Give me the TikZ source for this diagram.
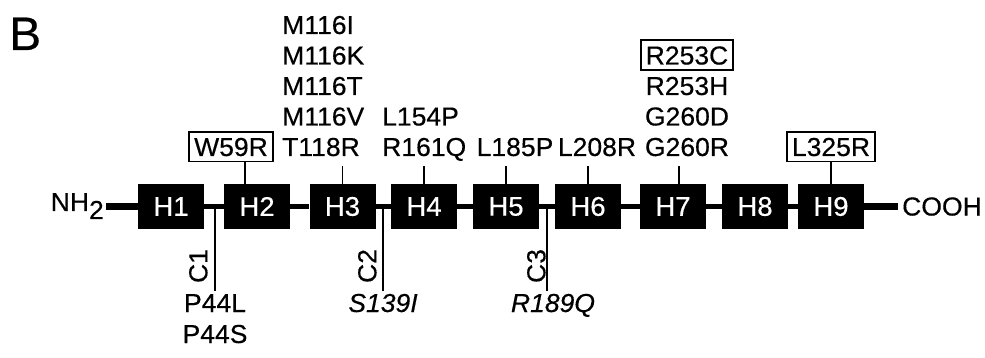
\documentclass[tikz,border=0pt]{standalone}
\usepackage{fontspec}
\setmainfont{Liberation Sans}[FakeStretch=1.02,FakeBold=0.4]
\begin{document}
\begin{tikzpicture}[x=1pt,y=-1pt,
  lab/.style={font=\fontsize{26}{30}\selectfont, inner sep=0pt, text height=18.6pt, text depth=0pt, anchor=base},
  boxlab/.style={lab, draw, line width=1.8pt, inner xsep=5pt, inner ysep=5.5pt},
  hbox/.style={fill=black, minimum width=66pt, minimum height=45pt, inner sep=0pt, text=white, font=\fontsize{27}{30}\selectfont},
  tick/.style={line width=1.8pt},
  chain/.style={line width=5.5pt},
  term/.style={line width=7.5pt}]
\useasboundingbox (0,0) rectangle (985,358);

% label B
\node[anchor=base west, inner sep=0pt, font=\fontsize{47}{50}\selectfont] (B) at (9,50) {B};

% helices
\foreach \n/\x in {1/171,2/257,3/342.5,4/424,5/506,6/588,7/673,8/755,9/831}
  \node[hbox] (H\n) at (\x,206.5) {H\n};
\foreach \a/\b in {H1/H2,H2/H3,H3/H4,H4/H5,H5/H6,H6/H7,H7/H8,H8/H9}
  \draw[chain] (\a.east) -- (\b.west);

% termini
\node[lab, anchor=base east] (N) at (104,211) {NH\raisebox{-8pt}{2}};
\draw[term] ([xshift=2pt]N.east |- H1.west) -- (H1.west);
\node[lab, anchor=base west] (COOH) at (902,215.5) {COOH};
\draw[term] (H9.east) -- ([xshift=-4pt]COOH.west |- H9.east);

% top labels
\node[boxlab] (W59R) at (231,156) {W59R};
\draw[tick] ([xshift=-12pt]H2.north) -- ([xshift=-12pt]H2.north |- W59R.south);

\node[lab, anchor=base west] (m1) at (282,34) {M116I};
\node[lab, anchor=base west] (m2) at (282,64.5) {M116K};
\node[lab, anchor=base west] (m3) at (282,95) {M116T};
\node[lab, anchor=base west] (m4) at (282,125.5) {M116V};
\node[lab, anchor=base west] (m5) at (282,156) {T118R};
\draw[tick] (H3.north) -- ([yshift=-10pt]H3.north |- m5.base);

\node[lab, anchor=base west] (L154P) at (382,125.5) {L154P};
\node[lab, anchor=base west] (R161Q) at (382,156) {R161Q};
\draw[tick] (H4.north) -- ([yshift=-10pt]H4.north |- R161Q.base);

\node[lab] (L185P) at (515,156) {L185P};
\draw[tick] (H5.north) -- ([yshift=-10pt]H5.north |- L185P.base);

\node[lab] (L208R) at (597,156) {L208R};
\draw[tick] (H6.north) -- ([yshift=-10pt]H6.north |- L208R.base);

\node[boxlab] (R253C) at (687,64.5) {R253C};
\node[lab] (R253H) at (687,95) {R253H};
\node[lab] (G260D) at (687,125.5) {G260D};
\node[lab] (G260R) at (687,156) {G260R};
\draw[tick] ([xshift=6pt]H7.north) -- ([xshift=6pt,yshift=-10pt]H7.north |- G260R.base);

\node[boxlab] (L325R) at (831,156) {L325R};
\draw[tick] (H9.north) -- (H9.north |- L325R.south);

% bottom labels
\coordinate (c1) at (215,206.5);
\coordinate (c2) at (383,206.5);
\coordinate (c3) at (547,206.5);

\node[lab] (P44L) at (215,312) {P44L};
\node[lab] (P44S) at (215,343) {P44S};
\node[lab, font=\fontsize{26}{30}\selectfont\itshape] (S139I) at (383,312) {S139I};
\node[lab, font=\fontsize{26}{30}\selectfont\itshape] (R189Q) at (553,312) {R189Q};

\draw[tick] (c1) -- ([yshift=2pt]c1 |- P44L.north);
\draw[tick] (c2) -- ([yshift=2pt]c2 |- S139I.north);
\draw[tick] (c3) -- ([yshift=2pt]c3 |- R189Q.north);

\node[lab, anchor=center, rotate=90] (C1) at (198,266) {C1};
\node[lab, anchor=center, rotate=90] (C2) at (367,266) {C2};
\node[lab, anchor=center, rotate=90] (C3) at (536,266) {C3};
\end{tikzpicture}
\end{document}
